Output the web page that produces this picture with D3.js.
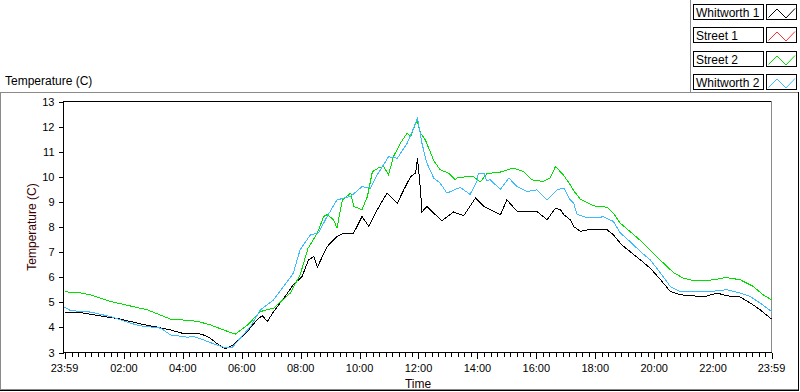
<!DOCTYPE html>
<html>
<head>
<meta charset="utf-8">
<script src="https://cdn.jsdelivr.net/npm/d3@7"></script>
<style>
  body { margin: 0; background: #fff; }
  svg { display: block; font-family: "Liberation Sans", Arial, sans-serif; }
  .frame { fill: none; shape-rendering: crispEdges; }
  .series { fill: none; stroke-width: 1; shape-rendering: crispEdges; stroke-linejoin: miter; }
</style>
</head>
<body>
<svg id="chart" width="800" height="392"></svg>
<script>
// series names, in legend order
const seriesNames = ['Whitworth 1', 'Street 1', 'Street 2', 'Whitworth 2'];
const seriesColors = ['#000000', '#ff3030', '#00e000', '#3cbcff'];

// x axis labels (first/last are the day boundaries)
const xTickLabels = ['23:59', '02:00', '04:00', '06:00', '08:00', '10:00', '12:00',
  '14:00', '16:00', '18:00', '20:00', '22:00', '23:59'];
const yTicks = [3, 4, 5, 6, 7, 8, 9, 10, 11, 12, 13];

// readings: times (clock) and temperatures
const whitworth1Times = ['23:59', '00:32', '01:12', '01:53', '02:34', '03:08', '03:35', '04:02',
  '04:30', '04:42', '04:56', '05:10', '05:27', '05:44', '05:57', '06:14', '06:31', '06:42',
  '06:52', '07:05', '07:26', '07:45', '08:03', '08:16', '08:27', '08:34', '08:54', '09:14',
  '09:28', '09:48', '10:05', '10:19', '10:36', '10:56', '11:17', '11:30', '11:44', '11:54',
  '11:58', '12:04', '12:07', '12:17', '12:31', '12:48', '13:11', '13:32', '13:56', '14:13',
  '14:30', '14:47', '15:00', '15:21', '15:41', '16:01', '16:22', '16:39', '16:49', '16:56',
  '17:09', '17:16', '17:30', '17:36', '17:57', '18:04', '18:24', '18:37', '18:54', '19:11',
  '19:32', '19:52', '20:13', '20:33', '20:53', '21:20', '21:41', '22:08', '22:28', '22:55',
  '23:16', '23:36', '23:59'];
const whitworth1Values = [4.59, 4.59, 4.46, 4.33, 4.14, 4.01, 3.90, 3.75,
  3.77, 3.70, 3.57, 3.35, 3.15, 3.31, 3.57, 3.90, 4.30, 4.47,
  4.23, 4.63, 5.17, 5.70, 6.03, 6.69, 6.83, 6.40, 7.22, 7.62,
  7.76, 7.76, 8.42, 8.02, 8.69, 9.35, 8.95, 9.48, 10.01, 10.15,
  10.74, 9.48, 8.60, 8.82, 8.55, 8.25, 8.60, 8.45, 9.15, 8.82,
  8.65, 8.49, 9.08, 8.62, 8.62, 8.62, 8.29, 8.75, 8.69, 8.49,
  8.29, 8.02, 7.82, 7.86, 7.92, 7.89, 7.89, 7.69, 7.29, 7.02,
  6.69, 6.36, 5.90, 5.43, 5.30, 5.26, 5.21, 5.37, 5.26, 5.21,
  4.97, 4.70, 4.33];

const street1Times = [];
const street1Values = [];

const street2Times = ['23:59', '00:32', '00:52', '01:33', '02:48', '03:35', '04:10', '04:30',
  '04:56', '05:23', '05:47', '06:12', '06:38', '07:05', '07:39', '07:59', '08:15', '08:34',
  '08:47', '08:54', '09:07', '09:14', '09:25', '09:42', '09:48', '10:05', '10:16', '10:26',
  '10:38', '10:49', '10:59', '11:09', '11:23', '11:37', '11:44', '11:57', '12:04', '12:14',
  '12:31', '12:44', '13:01', '13:15', '13:18', '13:39', '13:52', '14:06', '14:19', '14:30',
  '14:47', '15:13', '15:34', '15:51', '16:14', '16:28', '16:39', '16:49', '16:56', '17:09',
  '17:16', '17:30', '17:57', '18:24', '18:37', '18:51', '19:11', '19:38', '19:58', '20:19',
  '20:39', '20:59', '21:20', '21:48', '22:08', '22:25', '22:55', '23:22', '23:42', '23:59'];
const street2Values = [5.42, 5.37, 5.30, 5.03, 4.70, 4.33, 4.28, 4.24,
  4.10, 3.90, 3.73, 4.10, 4.63, 4.77, 5.37, 6.10, 7.15, 7.76,
  8.42, 8.49, 8.29, 7.96, 9.08, 9.35, 8.82, 8.69, 9.22, 10.20,
  10.35, 10.41, 10.08, 10.80, 11.34, 11.74, 11.60, 12.27, 11.74, 11.47,
  10.65, 10.28, 10.15, 9.88, 9.95, 10.01, 10.00, 9.80, 10.12, 10.15,
  10.19, 10.35, 10.21, 9.88, 9.81, 9.95, 10.41, 10.20, 10.05, 9.68,
  9.45, 9.10, 8.84, 8.79, 8.55, 8.15, 7.82, 7.36, 6.96, 6.56,
  6.19, 5.96, 5.87, 5.87, 5.92, 5.99, 5.90, 5.63, 5.30, 5.10];

const whitworth2Times = ['23:59', '00:11', '00:52', '01:33', '02:13', '02:34', '03:15', '03:35',
  '04:10', '04:22', '04:42', '05:02', '05:23', '05:41', '05:57', '06:18', '06:38', '07:05',
  '07:33', '07:45', '07:59', '08:20', '08:36', '08:54', '09:14', '09:42', '10:05', '10:22',
  '10:36', '10:59', '11:17', '11:37', '11:50', '11:58', '12:07', '12:17', '12:31', '12:44',
  '12:58', '13:05', '13:25', '13:45', '13:59', '14:02', '14:13', '14:19', '14:26', '14:47',
  '15:04', '15:21', '15:41', '16:01', '16:22', '16:42', '16:56', '17:09', '17:16', '17:23',
  '17:43', '18:10', '18:16', '18:37', '18:51', '19:11', '19:32', '19:52', '20:13', '20:33',
  '20:53', '21:20', '21:54', '22:28', '22:55', '23:16', '23:36', '23:59'];
const whitworth2Values = [4.81, 4.67, 4.61, 4.43, 4.17, 4.06, 3.97, 3.70,
  3.61, 3.64, 3.50, 3.35, 3.21, 3.21, 3.57, 4.04, 4.70, 5.10,
  5.83, 6.16, 7.10, 7.69, 7.76, 8.42, 9.08, 9.22, 9.61, 9.55,
  10.08, 10.80, 10.74, 11.34, 11.94, 12.34, 11.34, 10.55, 9.95, 9.75,
  9.35, 9.41, 9.58, 9.30, 9.81, 10.15, 10.15, 9.85, 9.88, 9.50,
  9.95, 9.61, 9.41, 9.48, 9.08, 9.48, 9.55, 9.08, 8.95, 8.50,
  8.38, 8.38, 8.42, 8.22, 7.76, 7.42, 7.02, 6.69, 6.16, 5.63,
  5.43, 5.41, 5.43, 5.50, 5.37, 5.23, 4.97, 4.63];

const seriesTimes = [whitworth1Times, street1Times, street2Times, whitworth2Times];
const seriesValues = [whitworth1Values, street1Values, street2Values, whitworth2Values];

// ---- time handling: first "23:59" is the previous day, everything else is the next day
const parseClock = d3.timeParse('%Y-%m-%d %H:%M');
const startTime = parseClock('2000-01-01 23:59');
const endTime = parseClock('2000-01-02 23:59');
function toDate(clock, i) {
  return i === 0 ? startTime : parseClock('2000-01-02 ' + clock);
}
function tickDate(label, i) {
  return i === 0 ? startTime : parseClock('2000-01-02 ' + label);
}

const svg = d3.select('#chart');

const plot = { left: 64, right: 772, top: 101, bottom: 353 };

const x = d3.scaleTime()
  .domain([startTime, endTime])
  .range([plot.left + 0.5, plot.right - 0.5]);
const y = d3.scaleLinear()
  .domain([3, 13])
  .range([plot.bottom - 0.5, plot.top + 0.5]);

// ---- outer frame
svg.append('path').attr('class', 'frame')
  .attr('d', 'M0.5,390 V92.5 H690').attr('stroke', '#8a8a8a');
svg.append('path').attr('class', 'frame')
  .attr('d', 'M690,92.5 H798.5 V389.5 H0').attr('stroke', '#8a8a8a');
svg.append('path').attr('class', 'frame')
  .attr('d', 'M798.5,92 V390.5 H0').attr('stroke', '#000');

// legend panel border
svg.append('path').attr('class', 'frame')
  .attr('d', 'M690.5,0 V92').attr('stroke', '#8a8a8a');

svg.append('text')
  .attr('x', 5).attr('y', 85)
  .attr('font-size', 12)
  .attr('fill', '#000')
  .text('Temperature (C)');

// ---- plot borders
svg.append('path').attr('class', 'frame')
  .attr('d', `M${plot.left},${plot.top + 0.5} H${plot.right}`).attr('stroke', '#000');
svg.append('path').attr('class', 'frame')
  .attr('d', `M${plot.right - 0.5},${plot.top} V${plot.bottom}`).attr('stroke', '#8a8a8a');

// ---- series
const line = d3.line()
  .x(d => x(d.t))
  .y(d => y(d.v));

seriesNames.forEach((name, k) => {
  const pts = seriesTimes[k].map((c, i) => ({ t: toDate(c, i), v: seriesValues[k][i] }));
  if (!pts.length) return;
  svg.append('path')
    .attr('class', 'series')
    .attr('stroke', seriesColors[k])
    .attr('d', line(pts));
});

// ---- y axis
const yAxis = d3.axisLeft(y)
  .tickValues(yTicks)
  .tickSize(5)
  .tickPadding(4)
  .tickFormat(d3.format('d'));
const yG = svg.append('g')
  .attr('transform', `translate(${plot.left - 0.5},0)`)
  .call(yAxis);
yG.select('.domain').attr('shape-rendering', 'crispEdges');
yG.selectAll('line').attr('shape-rendering', 'crispEdges');
yG.selectAll('text').attr('font-size', 11).attr('font-family', '"Liberation Sans", Arial, sans-serif').attr('fill', '#000');
yG.select('.domain').attr('d', `M0,${plot.top} V${plot.bottom}`);

// ---- x axis (major + minor ticks)
const xMajor = xTickLabels.map(tickDate);
const minorStep = 120 / 9; // minutes
const dayStart = parseClock('2000-01-02 00:00');
const xMinor = d3.range(1, 12 * 9 + 9)
  .map(i => d3.timeSecond.offset(dayStart, Math.round(i * minorStep * 60)))
  .filter(d => d < endTime && (d - dayStart) % (120 * 60000) !== 0);

const xG = svg.append('g')
  .attr('transform', `translate(0,${plot.bottom - 0.5})`);
xG.append('path')
  .attr('d', `M${plot.left},0 H${plot.right}`)
  .attr('stroke', '#000').attr('shape-rendering', 'crispEdges');
xG.selectAll('.minor')
  .data(xMinor)
  .join('line')
  .attr('class', 'minor')
  .attr('x1', d => Math.round(x(d)) + 0.5).attr('x2', d => Math.round(x(d)) + 0.5)
  .attr('y1', 0).attr('y2', 4)
  .attr('stroke', '#000').attr('shape-rendering', 'crispEdges');
xG.selectAll('.major')
  .data(xMajor)
  .join('line')
  .attr('class', 'major')
  .attr('x1', d => Math.round(x(d)) + 0.5).attr('x2', d => Math.round(x(d)) + 0.5)
  .attr('y1', 0).attr('y2', 6)
  .attr('stroke', '#000').attr('shape-rendering', 'crispEdges');
xG.selectAll('.xlabel')
  .data(xMajor)
  .join('text')
  .attr('class', 'xlabel')
  .attr('x', d => x(d))
  .attr('y', 19.5)
  .attr('text-anchor', 'middle')
  .attr('font-size', 11)
  .attr('fill', '#000')
  .text((d, i) => xTickLabels[i]);

// ---- axis titles
svg.append('text')
  .attr('x', (plot.left + plot.right) / 2)
  .attr('y', 388)
  .attr('text-anchor', 'middle')
  .attr('font-size', 12)
  .attr('fill', '#1a0000')
  .text('Time');
svg.append('text')
  .attr('transform', `translate(36,${(plot.top + plot.bottom) / 2}) rotate(-90)`)
  .attr('text-anchor', 'middle')
  .attr('font-size', 12)
  .attr('fill', '#3a0000')
  .text('Temperature (C)');

// ---- legend
const legend = svg.append('g');
const rowY = d3.scaleLinear().domain([0, 1]).range([4, 27.3]);
seriesNames.forEach((name, k) => {
  const g = legend.append('g').attr('transform', `translate(0,${Math.round(rowY(k))})`);
  g.append('rect')
    .attr('x', 693.5).attr('y', 0.5).attr('width', 70).attr('height', 15)
    .attr('fill', '#fff').attr('stroke', '#000').attr('shape-rendering', 'crispEdges');
  g.append('text')
    .attr('x', 696).attr('y', 12.5)
    .attr('font-size', 12)
    .attr('fill', '#000')
    .text(name);
  g.append('rect')
    .attr('x', 766.5).attr('y', 0.5).attr('width', 30).attr('height', 15)
    .attr('fill', '#fff').attr('stroke', '#000').attr('shape-rendering', 'crispEdges');
  g.append('path')
    .attr('fill', 'none')
    .attr('stroke', seriesColors[k])
    .attr('d', d3.line()([[768.5, 13.5], [777, 5], [786, 14], [795, 4.5]]));
});
</script>
</body>
</html>
